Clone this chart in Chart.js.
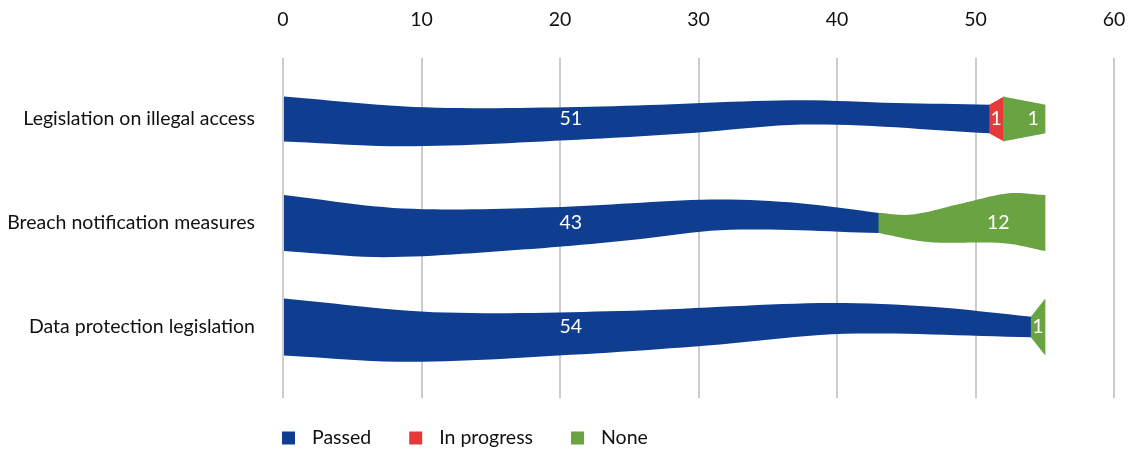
<!DOCTYPE html>
<html>
<head>
<meta charset="utf-8">
<script src="https://cdn.jsdelivr.net/npm/chart.js@4.4.1/dist/chart.umd.min.js"></script>
<style>
  body { margin: 0; background: #fff; }
  #wrap { width: 1131px; height: 453px; }
</style>
</head>
<body>
<div id="wrap"><canvas id="legislationChart"></canvas></div>
<script>
var categories = ['Legislation on illegal access', 'Breach notification measures', 'Data protection legislation'];
var seriesNames = ['Passed', 'In progress', 'None'];
var passed = [51, 43, 54];
var inProgress = [1, 0, 0];
var none = [3, 12, 1];
// the source prints "1" on the first green segment although it spans 3 units
var noneShown = ['1', '12', '1'];
var xTicks = [0, 10, 20, 30, 40, 50, 60];

var colors = ['#0f3e91', '#e8393a', '#69a342'];
var FONT = 'Lato, "Liberation Sans", sans-serif';

// wave outlines, as fractions of the half bar thickness
// (n = the thin "neck" where one segment hands over to the next)
function taperTop(n) { return [[0, -1], [0.2, -0.52], [0.45, -0.56], [0.72, -0.84], [0.86, -0.72], [1, -n]]; }
function taperBottom(n) { return [[0, 1], [0.17, 1.22], [0.4, 0.95], [0.57, 0.64], [0.75, 0.24], [1, n]]; }
function flareTop(n) { return [[0, -n], [0.2, -0.3], [0.5, -0.7], [0.78, -1.06], [1, -1]]; }
function flareBottom(n) { return [[0, n], [0.3, 0.68], [0.75, 0.72], [1, 1]]; }
var rowScale = [0.8, 1, 1.02];
var rowNeck = [0.64, 0.36, 0.36];

function curve(keys, t) {
  var i = 0;
  while (i < keys.length - 2 && t > keys[i + 1][0]) i++;
  function slope(k) {
    var a = keys[Math.max(k - 1, 0)], b = keys[Math.min(k + 1, keys.length - 1)];
    return (b[1] - a[1]) / (b[0] - a[0]);
  }
  var x0 = keys[i][0], y0 = keys[i][1], x1 = keys[i + 1][0], y1 = keys[i + 1][1];
  var h = x1 - x0, s = (t - x0) / h;
  var m0 = slope(i) * h, m1 = slope(i + 1) * h;
  var s2 = s * s, s3 = s2 * s;
  return (2 * s3 - 3 * s2 + 1) * y0 + (s3 - 2 * s2 + s) * m0 + (-2 * s3 + 3 * s2) * y1 + (s3 - s2) * m1;
}

function straight(keys) {
  return [keys[0], keys[keys.length - 1]];
}

var wavyBars = {
  id: 'wavyBars',
  beforeDatasetsDraw: function (chart) {
    var ctx = chart.ctx;
    var area = chart.chartArea;
    var labels = [];
    categories.forEach(function (cat, row) {
      var n = 0;
      chart.data.datasets.forEach(function (ds, di) {
        var value = ds.data[row];
        if (!value) return;
        var el = chart.getDatasetMeta(di).data[row];
        var x0 = Math.min(el.base, el.x), x1 = Math.max(el.base, el.x);
        var w = x1 - x0;
        var half = el.height / 2 * rowScale[row];
        var neck = rowNeck[row];
        var top = n % 2 ? flareTop(neck) : taperTop(neck);
        var bottom = n % 2 ? flareBottom(neck) : taperBottom(neck);
        if (w < 60) { top = straight(top); bottom = straight(bottom); }
        var steps = 60, k, t;
        ctx.save();
        ctx.beginPath();
        for (k = 0; k <= steps; k++) {
          t = k / steps;
          ctx.lineTo(x0 + t * (w + 0.6), el.y + curve(top, t) * half);
        }
        for (k = steps; k >= 0; k--) {
          t = k / steps;
          ctx.lineTo(x0 + t * (w + 0.6), el.y + curve(bottom, t) * half);
        }
        ctx.closePath();
        ctx.fillStyle = ds.backgroundColor;
        ctx.fill();
        ctx.restore();
        var lx;
        if (n === 0) lx = x0 + area.width * 0.345;
        else if (w < 20) lx = x0 + w / 2;
        else lx = x0 + w * 0.72;
        var text = ds.shown ? ds.shown[row] : String(value);
        labels.push([text, lx, el.y]);
        n++;
      });
    });
    ctx.save();
    ctx.fillStyle = '#ffffff';
    ctx.font = '19.5px ' + FONT;
    ctx.textAlign = 'center';
    ctx.textBaseline = 'middle';
    labels.forEach(function (l) { ctx.fillText(l[0], l[1], l[2]); });
    ctx.restore();
    return false;
  }
};

var squareLegend = {
  id: 'squareLegend',
  afterDraw: function (chart) {
    var ctx = chart.ctx;
    var x = chart.chartArea.left - 1;
    var y = chart.chartArea.bottom + 59;
    ctx.save();
    ctx.font = '19.5px ' + FONT;
    ctx.textBaseline = 'middle';
    chart.data.datasets.forEach(function (ds) {
      ctx.fillStyle = ds.backgroundColor;
      ctx.fillRect(x, y - 6.5, 13, 13);
      ctx.fillStyle = '#111';
      ctx.fillText(ds.label, x + 30, y);
      x += 30 + ctx.measureText(ds.label).width + 38;
    });
    ctx.restore();
  }
};

var ctx = document.getElementById('legislationChart').getContext('2d');
var legislationChart = new Chart(ctx, {
  type: 'bar',
  data: {
    labels: categories,
    datasets: [
      { label: seriesNames[0], data: passed, backgroundColor: colors[0] },
      { label: seriesNames[1], data: inProgress, backgroundColor: colors[1] },
      { label: seriesNames[2], data: none, backgroundColor: colors[2], shown: noneShown }
    ]
  },
  options: {
    indexAxis: 'y',
    responsive: true,
    maintainAspectRatio: false,
    animation: false,
    datasets: { bar: { barThickness: 56 } },
    layout: { padding: { top: 7, right: 17, bottom: 55, left: 0 } },
    scales: {
      x: {
        position: 'top',
        stacked: true,
        min: 0,
        max: 60,
        afterBuildTicks: function (s) { s.ticks = xTicks.map(function (v) { return { value: v }; }); },
        afterFit: function (s) { s.height = 60; },
        ticks: { font: { family: FONT, size: 19.5, lineHeight: '68px' }, color: '#111', padding: 4 },
        grid: { color: '#cccccc', lineWidth: 2, tickLength: 9 },
        border: { display: false }
      },
      x2: {
        axis: 'x',
        position: 'bottom',
        min: 0,
        max: 60,
        afterBuildTicks: function (s) { s.ticks = xTicks.map(function (v) { return { value: v }; }); },
        ticks: { display: false },
        grid: { color: '#cccccc', lineWidth: 2, tickLength: 19, drawOnChartArea: false },
        border: { display: false }
      },
      y: {
        stacked: true,
        afterFit: function (s) { s.width = 283; },
        ticks: { font: { family: FONT, size: 19.5 }, color: '#111', padding: 28 },
        grid: { display: false, drawTicks: false },
        border: { display: false }
      }
    },
    plugins: {
      legend: { display: false },
      tooltip: { enabled: false }
    }
  },
  plugins: [wavyBars, squareLegend]
});
</script>
</body>
</html>
